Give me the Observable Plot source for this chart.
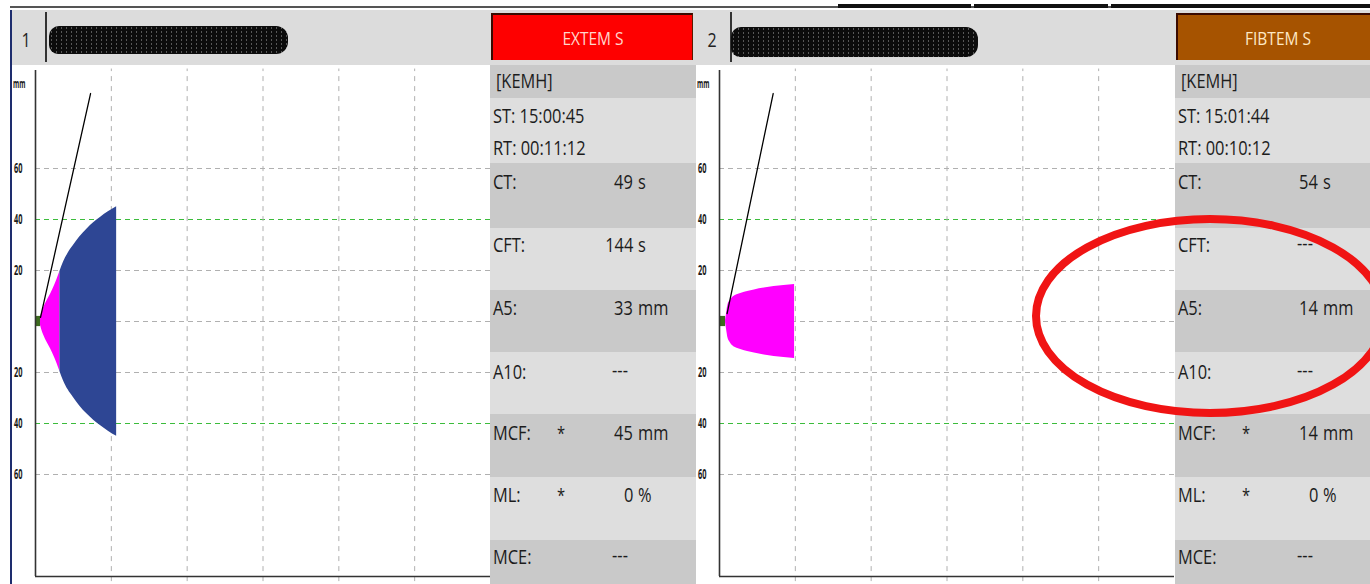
<!DOCTYPE html>
<html><head><meta charset="utf-8">
<script src="https://cdn.jsdelivr.net/npm/d3@7"></script>
<script src="https://cdn.jsdelivr.net/npm/@observablehq/plot@0.6"></script>
<style>
body{margin:0;background:#fff;}
#root{position:relative;width:1370px;height:584px;overflow:hidden;background:#fff;font-family:"Open Sans","Noto Sans",sans-serif;}
.box{position:absolute;}
.t{position:absolute;white-space:nowrap;line-height:1;color:#1c1c1c;}
</style></head><body><div id="root"></div>
<script>
// ---------- data ----------
const gridMinutes = [10, 20, 30, 40, 50];
const grayLinesMM = [-60, -20, 0, 20, 60];
const greenLinesMM = [-40, 40];
const tickMM = [-60, -40, -20, 20, 40, 60];

// EXTEM S trace (time in min, half amplitude in mm)
const extemGreenT = [0, 0.68];
const extemGreenA = [2, 2];
const extemCftT = [0.66, 0.8, 1.1, 1.5, 2.0, 2.5, 3.22];
const extemCftA = [1.5, 3.0, 5.5, 8.0, 10.8, 14.0, 19.6];
const extemMainT = [3.22, 3.7, 4.3, 5.0, 5.8, 6.8, 7.7, 8.6, 9.6, 10.7];
const extemMainA = [19.6, 23.3, 26.8, 29.8, 33.0, 36.3, 38.8, 40.9, 43.0, 45.0];
const extemTangentT = [0.66, 7.26];
const extemTangentA = [1.6, 89.4];

// FIBTEM S trace
const fibtemGreenT = [0.1, 0.8];
const fibtemGreenA = [2, 2];
const fibtemCftT = [0.8, 0.9, 1.0, 1.1, 1.4, 1.75, 2.3, 2.9, 3.7, 4.6, 5.9, 7.2, 8.5, 9.9];
const fibtemCftA = [0.5, 2.5, 4.5, 6.3, 8.2, 9.5, 10.5, 11.1, 11.8, 12.4, 13.1, 13.7, 14.1, 14.5];
const fibtemTangentT = [1.0, 7.08];
const fibtemTangentA = [3.1, 89.4];

// info panels
const channelNo = ["1", "2"];
const testNames = ["EXTEM S", "FIBTEM S"];
const extemMeta = ["[KEMH]", "ST: 15:00:45", "RT: 00:11:12"];
const fibtemMeta = ["[KEMH]", "ST: 15:01:44", "RT: 00:10:12"];
const paramLabels = ["CT:", "CFT:", "A5:", "A10:", "MCF:", "ML:", "MCE:"];
const paramStars = ["", "", "", "", "*", "*", ""];
const paramUnits = ["s", "s", "mm", "", "mm", "%", ""];
const extemValues = ["49", "144", "33", "---", "45", "0", "---"];
const fibtemValues = ["54", "---", "14", "---", "14", "0", "---"];

// ---------- helpers ----------
const root = document.getElementById("root");
function box(x, y, w, h, bg, extra) {
  const d = document.createElement("div");
  d.className = "box";
  Object.assign(d.style, {left: x + "px", top: y + "px", width: w + "px", height: h + "px", background: bg}, extra || {});
  root.appendChild(d);
  return d;
}
function txt(s, x, y, o) {
  o = o || {};
  const sx = o.sx ?? 0.82, anchor = o.anchor || "start";
  const d = document.createElement("div");
  d.className = "t";
  d.textContent = s;
  d.style.fontSize = (o.size || 20) + "px";
  if (o.weight) d.style.fontWeight = o.weight;
  if (o.color) d.style.color = o.color;
  d.style.top = y + "px";
  if (anchor === "start") {
    d.style.left = x + "px"; d.style.transformOrigin = "0 50%";
    d.style.transform = `translateY(-50%) scaleX(${sx})`;
  } else if (anchor === "end") {
    d.style.right = (1370 - x) + "px"; d.style.transformOrigin = "100% 50%";
    d.style.transform = `translateY(-50%) scaleX(${sx})`;
  } else {
    d.style.left = x + "px"; d.style.transformOrigin = "50% 50%";
    d.style.transform = `translate(-50%,-50%) scaleX(${sx})`;
  }
  root.appendChild(d);
  return d;
}
const pts = (T, A) => T.map((t, i) => ({t, a: A[i]}));

// narrow every label text of a trace plot (the screen font is strongly condensed)
function condense(svg, sx) {
  svg.querySelectorAll("text").forEach(el => {
    let tr = el.getAttribute("transform");
    if (!tr) {
      const x = +(el.getAttribute("x") || 0), y = +(el.getAttribute("y") || 0);
      el.removeAttribute("x"); el.removeAttribute("y");
      tr = `translate(${x},${y})`;
    }
    el.setAttribute("transform", tr + ` scale(${sx},1)`);
  });
}

function tracePlot(green, cft, main, tangent) {
  const marks = [
    Plot.ruleY(grayLinesMM, {stroke: "#b0b0b0", strokeDasharray: "5,4", strokeWidth: 1}),
    Plot.ruleY(greenLinesMM, {stroke: "#3cbc3c", strokeDasharray: "5,4", strokeWidth: 1}),
    Plot.ruleX(gridMinutes, {y1: -102, y2: 99, stroke: "#b0b0b0", strokeDasharray: "5,5", strokeWidth: 1}),
    Plot.areaY(green, {x: "t", y1: d => -d.a, y2: "a", fill: "#3d6b1f"}),
    Plot.areaY(cft, {x: "t", y1: d => -d.a, y2: "a", fill: "#ff00ff", curve: "monotone-x"})
  ];
  if (main) marks.push(Plot.areaY(main, {x: "t", y1: d => -d.a, y2: "a", fill: "#2e4694", curve: "monotone-x"}));
  marks.push(
    Plot.line(tangent, {x: "t", y: "a", stroke: "#000", strokeWidth: 1.3}),
    Plot.ruleX([0], {y1: -100, y2: 98.4, stroke: "#333", strokeWidth: 1.6}),
    Plot.ruleY([-100], {stroke: "#333", strokeWidth: 1.6}),
    Plot.text(tickMM, {x: () => 0, y: d => d, text: d => String(Math.abs(d)), textAnchor: "end", dx: -13,
      fontWeight: "bold", fontSize: 13.5, fill: "#1a1a1a"}),
    Plot.text(["mm"], {x: () => 0, y: () => 93, text: d => d, textAnchor: "end", dx: -10,
      fontWeight: "bold", fontSize: 11.5, fill: "#1a1a1a"})
  );
  const svg = Plot.plot({
    width: 490, height: 519, marginLeft: 35, marginRight: 0, marginTop: 1, marginBottom: 8,
    x: {domain: [0, 60], axis: null},
    y: {domain: [-100, 100], axis: null},
    style: {background: "transparent", fontFamily: "Open Sans, sans-serif", overflow: "visible"},
    marks
  });
  condense(svg, 0.55);
  return svg;
}

// ---------- frame ----------
box(10, 6, 1360, 2, "#555");
box(838, 4, 133, 4, "#111");
box(974, 4, 134, 4, "#111");
box(1111, 4, 259, 4, "#111");
box(10, 10, 1360, 55, "#dcdcdc");

// plots
const leftSvg = tracePlot(pts(extemGreenT, extemGreenA), pts(extemCftT, extemCftA), pts(extemMainT, extemMainA), pts(extemTangentT, extemTangentA));
Object.assign(leftSvg.style, {position: "absolute", left: "0px", top: "65px"});
root.appendChild(leftSvg);
const rightSvg = tracePlot(pts(fibtemGreenT, fibtemGreenA), pts(fibtemCftT, fibtemCftA), null, pts(fibtemTangentT, fibtemTangentA));
Object.assign(rightSvg.style, {position: "absolute", left: "684px", top: "65px"});
root.appendChild(rightSvg);

box(10, 10, 2, 574, "#1e2d6e");

// headers
[[45, 26, 48, 239, 28], [730, 712, 730, 247, 30]].forEach(([sep, nx, bx, bw, bh], i) => {
  box(sep, 12, 1.5, 50, "#333");
  txt(channelNo[i], nx, 40, {size: 20, sx: 0.8, anchor: "middle", color: "#222"});
  box(bx + 1, i === 0 ? 26 : 27, bw, bh, "#0c0c0c", {
    borderRadius: "10px 12px 12px 9px",
    backgroundImage: "radial-gradient(circle, rgba(150,150,150,0.55) 0.7px, transparent 1.1px)",
    backgroundSize: "5px 4px"
  });
});

// info panels
const rowsBg = [[65, 98, 1], [98, 163, 0], [163, 228, 1], [228, 290, 0], [290, 352, 1], [352, 414, 0], [414, 477, 1], [477, 540, 0], [540, 584, 1]];
const metaY = [81, 116, 148];
const paramY = [182, 245, 308, 372, 433, 495, 557];
const panels = [
  {x: 490, w: 206, head: "#fe0000", headText: "#ffd6cc", meta: extemMeta, vals: extemValues},
  {x: 1175, w: 195, head: "#a65300", headText: "#ffe9c4", meta: fibtemMeta, vals: fibtemValues}
];
panels.forEach((p, i) => {
  rowsBg.forEach(([y0, y1, dark]) => box(p.x, y0, p.w, y1 - y0, dark ? "#c9c9c9" : "#dedede"));
  box(p.x + 1, 13, 202, 47, p.head, {boxSizing: "border-box", borderTop: "2px solid #3a0a00", borderLeft: "2px solid #3a0a00", borderRight: "1px solid #5a1a00"});
  txt(testNames[i], p.x + 103, 38, {size: 18, sx: 0.86, anchor: "middle", color: p.headText});
  p.meta.forEach((m, k) => txt(m, p.x + (k === 0 ? 6 : 3), metaY[k], {size: 20}));
  paramLabels.forEach((lab, k) => {
    const y = paramY[k];
    txt(lab, p.x + 3, y, {size: 20});
    if (paramStars[k]) txt(paramStars[k], p.x + 71, y, {size: 18, anchor: "middle"});
    const v = p.vals[k];
    if (v === "---") {
      txt(v, p.x + 130, y - 2, {size: 20, anchor: "middle"});
    } else {
      txt(v, p.x + 143, y, {size: 20, anchor: "end"});
      txt(paramUnits[k], p.x + 148, y, {size: 20});
    }
  });
});

// red annotation ellipse
const ov = document.createElementNS("http://www.w3.org/2000/svg", "svg");
ov.setAttribute("width", 1370); ov.setAttribute("height", 584);
Object.assign(ov.style, {position: "absolute", left: "0px", top: "0px"});
const el = document.createElementNS("http://www.w3.org/2000/svg", "ellipse");
el.setAttribute("cx", 1210); el.setAttribute("cy", 316); el.setAttribute("rx", 174); el.setAttribute("ry", 97);
el.setAttribute("fill", "none"); el.setAttribute("stroke", "#f01414"); el.setAttribute("stroke-width", 8);
ov.appendChild(el);
root.appendChild(ov);
</script>
</body></html>
